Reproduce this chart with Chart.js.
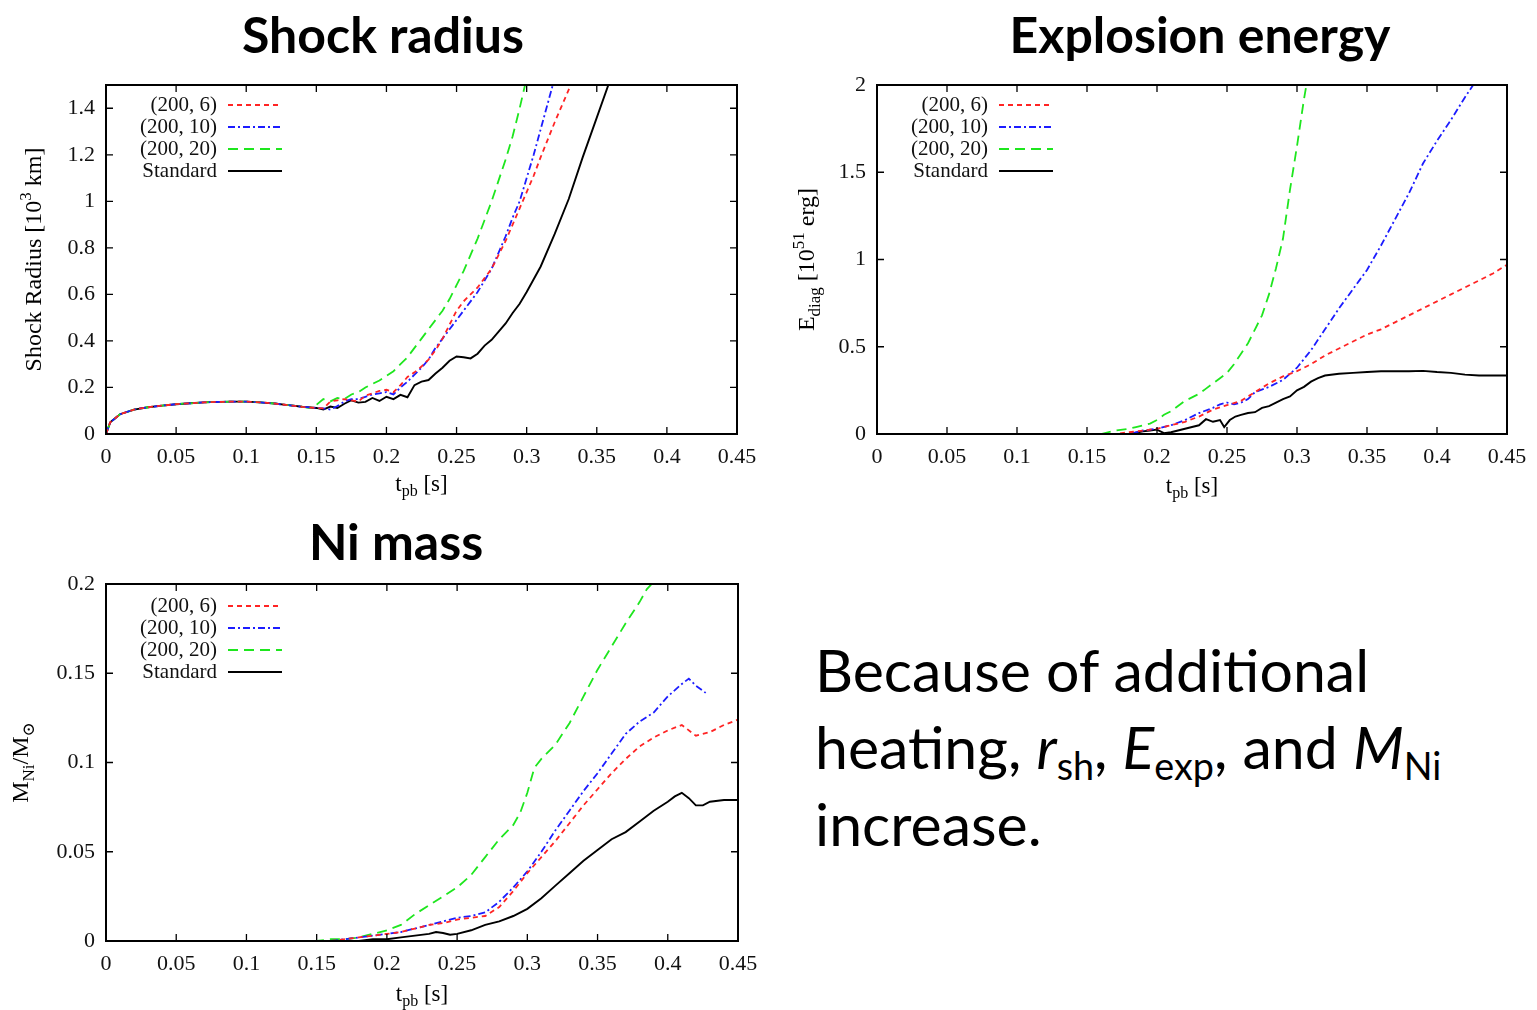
<!DOCTYPE html>
<html lang="en">
<head>
<meta charset="UTF-8">
<title>Shock radius, explosion energy, Ni mass</title>
<script src="https://cdn.jsdelivr.net/npm/chart.js"></script>
<style>
  html, body { margin: 0; padding: 0; background: #fff; }
  #page { position: relative; width: 1537px; height: 1010px; overflow: hidden; }
  .title {
    position: absolute;
    font-family: Lato, "Open Sans", sans-serif;
    font-weight: bold;
    font-size: 50px;
    line-height: 1;
    color: #000;
    transform: translateX(-50%);
    white-space: nowrap;
  }
  canvas { position: absolute; }
  #note {
    position: absolute;
    left: 815px;
    top: 631px;
    font-family: Lato, "Open Sans", sans-serif;
    font-size: 59px;
    line-height: 77px;
    color: #000;
    white-space: nowrap;
  }
  #note sub { font-size: 0.64em; line-height: 0; vertical-align: -0.3em; }
</style>
</head>
<body>
<div id="page">
  <div class="title" style="left:383px; top:9px;">Shock radius</div>
  <div class="title" style="left:1200px; top:9px;">Explosion energy</div>
  <div class="title" style="left:396px; top:516px;">Ni mass</div>

  <canvas id="radiusChart" width="770" height="440" style="left:0; top:70px;"></canvas>
  <canvas id="energyChart" width="767" height="440" style="left:770px; top:70px;"></canvas>
  <canvas id="nickelChart" width="770" height="440" style="left:0; top:570px;"></canvas>

  <div id="note">Because of additional<br>heating, <i>r</i><sub>sh</sub>, <i>E</i><sub>exp</sub>, and <i>M</i><sub>Ni</sub><br>increase.</div>
</div>

<script>
// ---- data ----
const seriesNames = ['(200, 6)', '(200, 10)', '(200, 20)', 'Standard'];
const tTicks = [0, 0.05, 0.1, 0.15, 0.2, 0.25, 0.3, 0.35, 0.4, 0.45];
const radiusTicks = [0, 0.2, 0.4, 0.6, 0.8, 1, 1.2, 1.4];
const energyTicks = [0, 0.5, 1, 1.5, 2];
const nickelTicks = [0, 0.05, 0.1, 0.15, 0.2];

// shock radius [10^3 km]
const radiusTEarly = [0, 0.003, 0.01, 0.02, 0.03, 0.04, 0.05, 0.06, 0.07, 0.08, 0.09, 0.1, 0.11, 0.12, 0.13, 0.14, 0.15];
const radiusEarly = [0, 0.05, 0.085, 0.105, 0.115, 0.122, 0.128, 0.132, 0.136, 0.138, 0.139, 0.139, 0.136, 0.131, 0.124, 0.117, 0.112];

const radiusTStd = [0.155, 0.16, 0.165, 0.17, 0.175, 0.18, 0.185, 0.19, 0.195, 0.2, 0.205, 0.21, 0.215, 0.22, 0.225, 0.23, 0.235, 0.24, 0.245, 0.25, 0.255, 0.26, 0.265, 0.27, 0.275, 0.28, 0.285, 0.29, 0.295, 0.3, 0.31, 0.32, 0.33, 0.34, 0.35, 0.36];
const radiusStd = [0.105, 0.118, 0.112, 0.13, 0.145, 0.135, 0.138, 0.155, 0.142, 0.16, 0.15, 0.168, 0.158, 0.21, 0.225, 0.232, 0.26, 0.285, 0.315, 0.333, 0.33, 0.325, 0.345, 0.38, 0.405, 0.44, 0.475, 0.52, 0.56, 0.61, 0.72, 0.86, 1.01, 1.19, 1.36, 1.53];

const radiusT6 = [0.155, 0.16, 0.165, 0.17, 0.175, 0.18, 0.185, 0.19, 0.195, 0.2, 0.205, 0.21, 0.215, 0.22, 0.225, 0.23, 0.235, 0.24, 0.245, 0.25, 0.255, 0.26, 0.265, 0.27, 0.275, 0.28, 0.285, 0.29, 0.295, 0.3, 0.305, 0.31, 0.32, 0.33, 0.335];
const radius6 = [0.11, 0.14, 0.145, 0.15, 0.145, 0.14, 0.165, 0.175, 0.185, 0.19, 0.18, 0.21, 0.245, 0.265, 0.29, 0.32, 0.36, 0.41, 0.47, 0.53, 0.57, 0.6, 0.63, 0.67, 0.71, 0.77, 0.83, 0.9, 0.97, 1.04, 1.11, 1.19, 1.34, 1.48, 1.55];

const radiusT10 = [0.155, 0.16, 0.165, 0.17, 0.175, 0.18, 0.185, 0.19, 0.195, 0.2, 0.205, 0.21, 0.215, 0.22, 0.225, 0.23, 0.235, 0.24, 0.245, 0.25, 0.255, 0.26, 0.265, 0.27, 0.275, 0.28, 0.285, 0.29, 0.295, 0.3, 0.305, 0.31, 0.315, 0.32];
const radius10 = [0.11, 0.105, 0.12, 0.14, 0.15, 0.15, 0.16, 0.17, 0.175, 0.18, 0.17, 0.2, 0.225, 0.255, 0.285, 0.32, 0.37, 0.41, 0.45, 0.49, 0.53, 0.57, 0.61, 0.66, 0.71, 0.78, 0.85, 0.93, 1.0, 1.1, 1.2, 1.31, 1.42, 1.53];

const radiusT20 = [0.145, 0.15, 0.155, 0.16, 0.165, 0.17, 0.175, 0.18, 0.185, 0.19, 0.195, 0.2, 0.205, 0.21, 0.215, 0.22, 0.225, 0.23, 0.235, 0.24, 0.245, 0.25, 0.255, 0.26, 0.265, 0.27, 0.275, 0.28, 0.285, 0.29, 0.295, 0.3];
const radius20 = [0.112, 0.125, 0.15, 0.14, 0.155, 0.15, 0.17, 0.18, 0.2, 0.215, 0.23, 0.25, 0.27, 0.3, 0.33, 0.37, 0.41, 0.45, 0.49, 0.53, 0.58, 0.64, 0.7, 0.77, 0.84, 0.92, 1.0, 1.09, 1.18, 1.28, 1.4, 1.53];

// diagnostic explosion energy [10^51 erg]
const energyT6 = [0, 0.17, 0.18, 0.19, 0.2, 0.21, 0.22, 0.23, 0.24, 0.25, 0.26, 0.27, 0.28, 0.29, 0.3, 0.31, 0.32, 0.33, 0.34, 0.35, 0.36, 0.37, 0.38, 0.39, 0.4, 0.41, 0.42, 0.43, 0.44, 0.45];
const energy6 = [0, 0, 0.01, 0.02, 0.03, 0.05, 0.07, 0.1, 0.14, 0.165, 0.19, 0.24, 0.29, 0.33, 0.36, 0.4, 0.45, 0.49, 0.53, 0.57, 0.6, 0.64, 0.68, 0.72, 0.76, 0.8, 0.84, 0.88, 0.92, 0.97];

const energyT10 = [0, 0.18, 0.19, 0.2, 0.21, 0.22, 0.23, 0.24, 0.245, 0.25, 0.255, 0.26, 0.265, 0.27, 0.28, 0.29, 0.3, 0.31, 0.32, 0.33, 0.34, 0.35, 0.36, 0.37, 0.38, 0.39, 0.4, 0.41, 0.42, 0.43];
const energy10 = [0, 0, 0.02, 0.03, 0.05, 0.08, 0.12, 0.15, 0.17, 0.18, 0.17, 0.18, 0.2, 0.24, 0.27, 0.31, 0.38, 0.48, 0.6, 0.72, 0.83, 0.94, 1.08, 1.23, 1.38, 1.55, 1.68, 1.8, 1.93, 2.05];

const energyT20 = [0, 0.16, 0.17, 0.18, 0.185, 0.19, 0.195, 0.2, 0.205, 0.21, 0.215, 0.22, 0.225, 0.23, 0.235, 0.24, 0.245, 0.25, 0.255, 0.26, 0.265, 0.27, 0.275, 0.28, 0.285, 0.29, 0.295, 0.3, 0.305, 0.31];
const energy20 = [0, 0, 0.02, 0.03, 0.04, 0.05, 0.06, 0.08, 0.11, 0.13, 0.16, 0.19, 0.21, 0.23, 0.26, 0.29, 0.32, 0.35, 0.4, 0.46, 0.52, 0.6, 0.68, 0.8, 0.95, 1.12, 1.4, 1.65, 1.92, 2.15];

const energyTStd = [0, 0.18, 0.19, 0.195, 0.2, 0.205, 0.21, 0.215, 0.22, 0.225, 0.23, 0.235, 0.24, 0.245, 0.248, 0.252, 0.256, 0.26, 0.265, 0.27, 0.275, 0.28, 0.285, 0.29, 0.295, 0.3, 0.305, 0.31, 0.315, 0.32, 0.33, 0.34, 0.35, 0.36, 0.37, 0.38, 0.39, 0.4, 0.41, 0.42, 0.43, 0.44, 0.45];
const energyStd = [0, 0, 0.015, 0.02, 0.025, 0.005, 0.01, 0.02, 0.03, 0.04, 0.05, 0.085, 0.07, 0.08, 0.04, 0.08, 0.1, 0.11, 0.12, 0.125, 0.15, 0.16, 0.18, 0.2, 0.215, 0.25, 0.27, 0.3, 0.32, 0.335, 0.345, 0.35, 0.355, 0.36, 0.36, 0.36, 0.362, 0.355, 0.35, 0.34, 0.335, 0.335, 0.335];

// Ni mass [M_sun]
const nickelT6 = [0, 0.16, 0.17, 0.18, 0.19, 0.2, 0.21, 0.22, 0.23, 0.24, 0.25, 0.26, 0.27, 0.28, 0.29, 0.3, 0.31, 0.32, 0.33, 0.34, 0.35, 0.36, 0.37, 0.38, 0.39, 0.4, 0.41, 0.42, 0.43, 0.44, 0.45];
const nickel6 = [0, 0, 0.001, 0.002, 0.003, 0.004, 0.005, 0.007, 0.009, 0.01, 0.012, 0.013, 0.014, 0.019, 0.028, 0.038, 0.047, 0.056, 0.066, 0.076, 0.085, 0.094, 0.102, 0.109, 0.114, 0.118, 0.121, 0.115, 0.117, 0.121, 0.124];

const nickelT10 = [0, 0.16, 0.17, 0.18, 0.19, 0.2, 0.21, 0.22, 0.23, 0.24, 0.25, 0.26, 0.27, 0.28, 0.29, 0.3, 0.31, 0.32, 0.33, 0.34, 0.35, 0.36, 0.37, 0.38, 0.39, 0.4, 0.41, 0.415, 0.42, 0.427];
const nickel10 = [0, 0, 0.001, 0.002, 0.003, 0.004, 0.005, 0.007, 0.009, 0.011, 0.013, 0.014, 0.016, 0.022, 0.03, 0.039, 0.05, 0.062, 0.073, 0.084, 0.094, 0.105, 0.116, 0.123, 0.128, 0.137, 0.144, 0.147, 0.143, 0.139];

const nickelT20 = [0, 0.15, 0.16, 0.17, 0.18, 0.19, 0.2, 0.21, 0.22, 0.23, 0.24, 0.25, 0.26, 0.27, 0.28, 0.29, 0.295, 0.3, 0.305, 0.31, 0.32, 0.33, 0.34, 0.35, 0.36, 0.37, 0.38, 0.385, 0.392];
const nickel20 = [0, 0, 0.001, 0.001, 0.002, 0.004, 0.006, 0.009, 0.015, 0.02, 0.025, 0.03, 0.037, 0.047, 0.057, 0.065, 0.072, 0.083, 0.097, 0.102, 0.11, 0.122, 0.137, 0.152, 0.165, 0.178, 0.19, 0.197, 0.203];

const nickelTStd = [0, 0.18, 0.19, 0.2, 0.21, 0.22, 0.23, 0.235, 0.24, 0.245, 0.25, 0.26, 0.27, 0.28, 0.29, 0.3, 0.31, 0.32, 0.33, 0.34, 0.35, 0.36, 0.37, 0.38, 0.39, 0.4, 0.405, 0.41, 0.415, 0.42, 0.425, 0.43, 0.44, 0.45];
const nickelStd = [0, 0, 0.001, 0.001, 0.002, 0.003, 0.004, 0.005, 0.0045, 0.0035, 0.004, 0.006, 0.009, 0.011, 0.014, 0.018, 0.024, 0.031, 0.038, 0.045, 0.051, 0.057, 0.061, 0.067, 0.073, 0.078, 0.081, 0.083, 0.08, 0.076, 0.076, 0.078, 0.079, 0.079];

// ---- styling ----
const lineColors = ['#ff2424', '#1c1cff', '#1ee61e', '#000000'];
const lineDashes = [[5, 4], [7, 3, 2, 3], [10, 6], []];
const serif = '"Liberation Serif", "DejaVu Serif", serif';

function zip(ts, vs) {
  return ts.map((t, i) => ({ x: t, y: vs[i] }));
}

// draws text made of plain / sub / sup pieces, centred on (cx, cy)
function drawRich(ctx, parts, cx, cy, rot, size) {
  const big = size + 'px ' + serif;
  const small = Math.round(size * 0.7) + 'px ' + serif;
  let total = 0;
  const widths = parts.map(p => {
    ctx.font = p[1] ? small : big;
    const w = ctx.measureText(p[0]).width;
    total += w;
    return w;
  });
  ctx.save();
  ctx.translate(cx, cy);
  ctx.rotate(rot);
  ctx.textBaseline = 'middle';
  ctx.textAlign = 'left';
  ctx.fillStyle = '#000';
  let x = -total / 2;
  parts.forEach((p, i) => {
    ctx.font = p[1] ? small : big;
    const dy = p[1] === 'sub' ? size * 0.3 : p[1] === 'sup' ? -size * 0.35 : 0;
    ctx.fillText(p[0], x, dy);
    x += widths[i];
  });
  ctx.restore();
}

// gnuplot-like box with inward ticks on all four sides
const framePlugin = {
  id: 'frame',
  afterDatasetsDraw(chart) {
    const { ctx, chartArea: a, scales } = chart;
    ctx.save();
    ctx.strokeStyle = '#000';
    ctx.lineWidth = 2;
    ctx.strokeRect(a.left, a.top, a.right - a.left, a.bottom - a.top);
    ctx.lineWidth = 1.3;
    ctx.beginPath();
    scales.x.ticks.forEach(t => {
      const px = scales.x.getPixelForValue(t.value);
      ctx.moveTo(px, a.bottom); ctx.lineTo(px, a.bottom - 7);
      ctx.moveTo(px, a.top); ctx.lineTo(px, a.top + 7);
    });
    scales.y.ticks.forEach(t => {
      const py = scales.y.getPixelForValue(t.value);
      ctx.moveTo(a.left, py); ctx.lineTo(a.left + 7, py);
      ctx.moveTo(a.right, py); ctx.lineTo(a.right - 7, py);
    });
    ctx.stroke();
    ctx.restore();
  }
};

// key in the upper left: label right-aligned, line sample after it
const keyPlugin = {
  id: 'key',
  afterDraw(chart, args, opts) {
    const { ctx, chartArea: a } = chart;
    ctx.save();
    ctx.font = '21px ' + serif;
    ctx.textAlign = 'right';
    ctx.textBaseline = 'middle';
    chart.data.datasets.forEach((ds, i) => {
      const y = a.top + opts.top + i * 22;
      const tx = a.left + opts.textRight;
      ctx.fillStyle = '#111';
      ctx.fillText(ds.label, tx, y);
      ctx.strokeStyle = ds.borderColor;
      ctx.lineWidth = ds.borderWidth;
      ctx.setLineDash(ds.borderDash);
      ctx.beginPath();
      ctx.moveTo(tx + 11, y);
      ctx.lineTo(tx + 65, y);
      ctx.stroke();
    });
    ctx.restore();
  }
};

const axisTitlePlugin = {
  id: 'axisTitles',
  afterDraw(chart, args, opts) {
    const { ctx, chartArea: a } = chart;
    drawRich(ctx, opts.x, (a.left + a.right) / 2, opts.xAt, 0, 23);
    drawRich(ctx, opts.y, opts.yAt, (a.top + a.bottom) / 2, -Math.PI / 2, 24);
  }
};

function makeChart(id, cfg) {
  const tickFont = { family: serif, size: 22 };
  const datasets = cfg.series.map((s, i) => ({
    label: seriesNames[i],
    data: zip(s[0], s[1]),
    borderColor: lineColors[i],
    borderDash: lineDashes[i],
    borderWidth: i === 3 ? 1.9 : 1.8,
    pointRadius: 0,
    fill: false,
    tension: 0
  }));
  return new Chart(document.getElementById(id), {
    type: 'line',
    data: { datasets },
    options: {
      responsive: false,
      animation: false,
      devicePixelRatio: 1,
      layout: { padding: cfg.padding },
      plugins: {
        legend: { display: false },
        tooltip: { enabled: false },
        key: { top: cfg.keyTop, textRight: 111 },
        axisTitles: cfg.titles
      },
      scales: {
        x: {
          type: 'linear',
          min: 0,
          max: 0.45,
          afterBuildTicks: s => { s.ticks = tTicks.map(v => ({ value: v })); },
          afterFit: s => { s.height = cfg.xHeight; s.paddingLeft = 0; s.paddingRight = 0; },
          grid: { display: false },
          border: { display: false },
          ticks: { font: tickFont, color: '#111', padding: 2, maxRotation: 0, autoSkip: false, callback: v => String(v) }
        },
        y: {
          type: 'linear',
          min: 0,
          max: cfg.yMax,
          afterBuildTicks: s => { s.ticks = cfg.yTicks.map(v => ({ value: v })); },
          afterFit: s => { s.width = cfg.yWidth; s.paddingTop = 0; s.paddingBottom = 0; },
          grid: { display: false },
          border: { display: false },
          ticks: { font: tickFont, color: '#111', padding: 3, autoSkip: false, callback: v => String(v) }
        }
      }
    },
    plugins: [framePlugin, keyPlugin, axisTitlePlugin]
  });
}

const tpbTitle = [['t'], ['pb', 'sub'], [' [s]']];

makeChart('radiusChart', {
  series: [
    [radiusTEarly.concat(radiusT6), radiusEarly.concat(radius6)],
    [radiusTEarly.concat(radiusT10), radiusEarly.concat(radius10)],
    [radiusTEarly.slice(0, -1).concat(radiusT20), radiusEarly.slice(0, -1).concat(radius20)],
    [radiusTEarly.concat(radiusTStd), radiusEarly.concat(radiusStd)]
  ],
  yMax: 1.5, yTicks: radiusTicks,
  padding: { left: 0, right: 33, top: 15, bottom: 0 },
  yWidth: 106, xHeight: 76, keyTop: 20,
  titles: { x: tpbTitle, xAt: 415, y: [['Shock Radius [10'], ['3', 'sup'], [' km]']], yAt: 35 }
});

makeChart('energyChart', {
  series: [[energyT6, energy6], [energyT10, energy10], [energyT20, energy20], [energyTStd, energyStd]],
  yMax: 2, yTicks: energyTicks,
  padding: { left: 0, right: 30, top: 15, bottom: 0 },
  yWidth: 107, xHeight: 76, keyTop: 20,
  titles: { x: tpbTitle, xAt: 417, y: [['E'], ['diag', 'sub'], [' [10'], ['51', 'sup'], [' erg]']], yAt: 38 }
});

makeChart('nickelChart', {
  series: [[nickelT6, nickel6], [nickelT10, nickel10], [nickelT20, nickel20], [nickelTStd, nickelStd]],
  yMax: 0.2, yTicks: nickelTicks,
  padding: { left: 0, right: 32, top: 14, bottom: 0 },
  yWidth: 106, xHeight: 69, keyTop: 22,
  titles: { x: tpbTitle, xAt: 425, y: [['M'], ['Ni', 'sub'], ['/M'], ['\u2299', 'sub']], yAt: 22 }
});
</script>
</body>
</html>
